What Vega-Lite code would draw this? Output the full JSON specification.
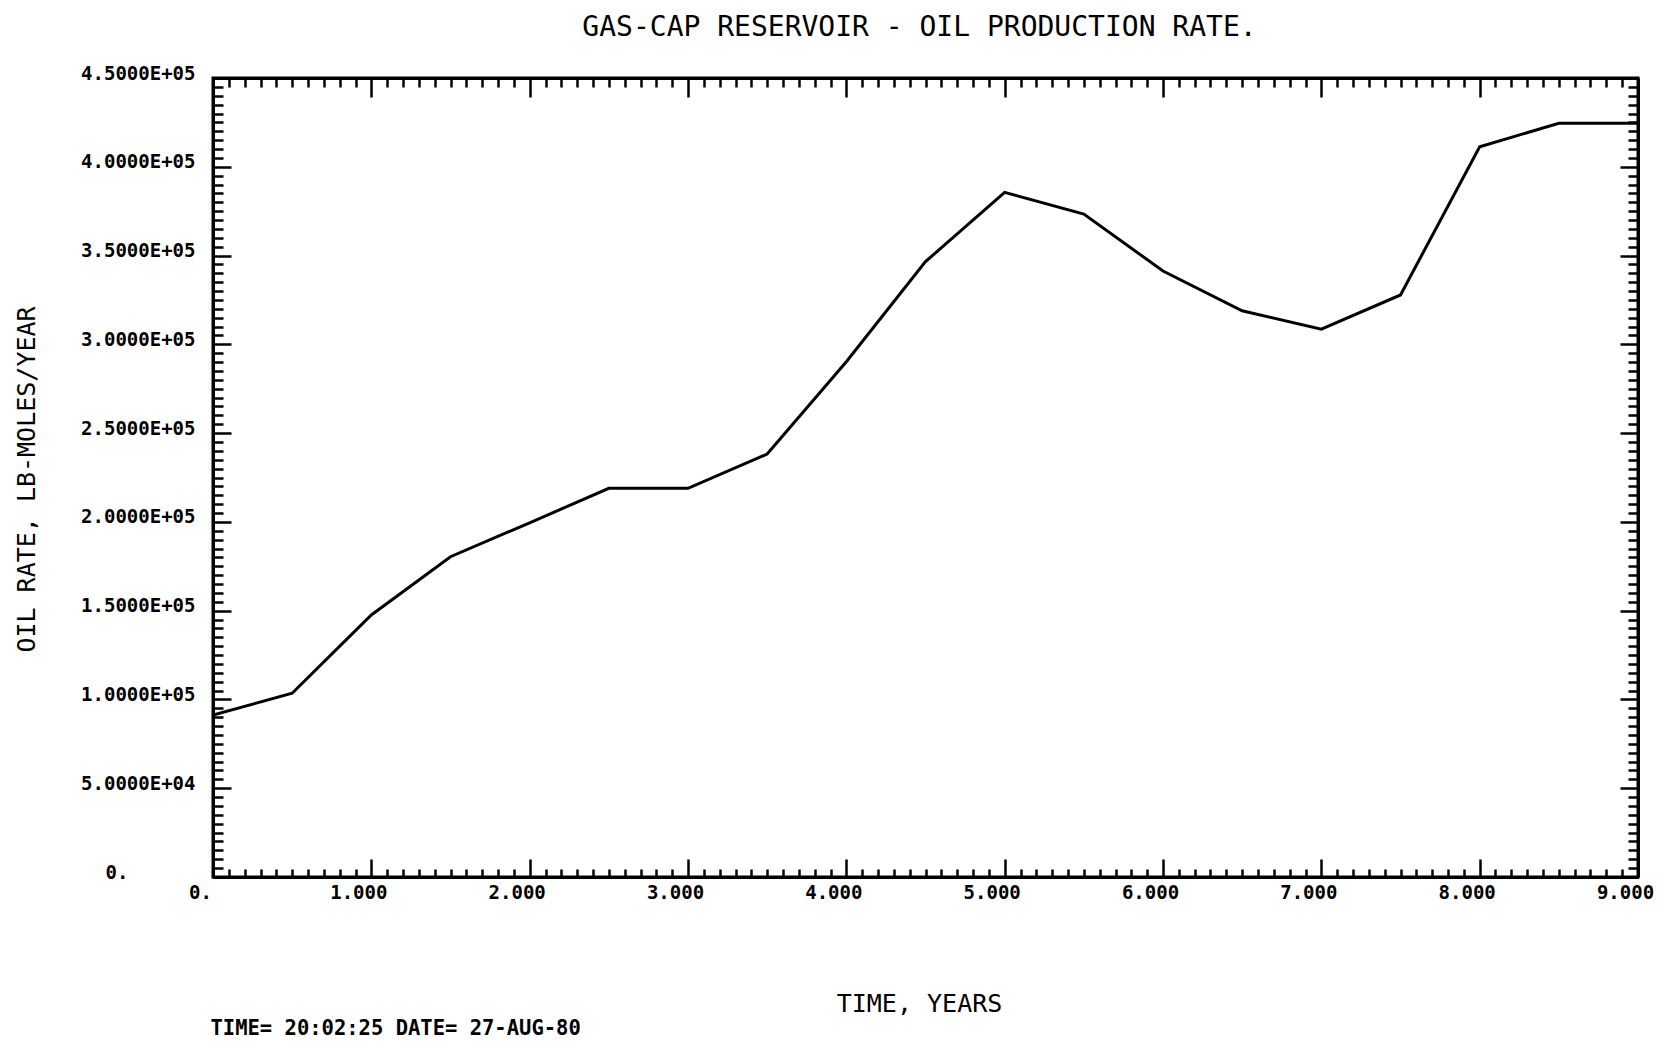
{
  "$schema": "https://vega.github.io/schema/vega-lite/v6.json",
  "width": 1425,
  "height": 799,
  "autosize": {"type": "none"},
  "padding": {"left": 213, "top": 78, "right": 20, "bottom": 165},
  "background": "white",
  "title": {
    "text": "GAS-CAP RESERVOIR - OIL PRODUCTION RATE.",
    "anchor": "middle",
    "frame": "group",
    "font": "DejaVu Sans Mono",
    "fontSize": 28,
    "fontWeight": "normal",
    "color": "black",
    "baseline": "alphabetic",
    "offset": 0,
    "dx": -6
  },
  "config": {
    "view": {"stroke": "black", "strokeWidth": 3},
    "axis": {
      "grid": false,
      "domainColor": "black",
      "domainWidth": 3,
      "tickColor": "black",
      "tickWidth": 2.5,
      "labelColor": "black",
      "titleColor": "black",
      "labelOverlap": false,
      "labelFlush": false,
      "labelBound": false
    }
  },
  "data": {
    "values": [
      {"years": 0.0, "oil_rate": 91200},
      {"years": 0.5, "oil_rate": 103500},
      {"years": 1.0, "oil_rate": 147600},
      {"years": 1.5, "oil_rate": 180400},
      {"years": 2.0, "oil_rate": 199500},
      {"years": 2.5, "oil_rate": 218900},
      {"years": 3.0, "oil_rate": 218900},
      {"years": 3.5, "oil_rate": 238200},
      {"years": 4.0, "oil_rate": 290200},
      {"years": 4.5, "oil_rate": 346600},
      {"years": 5.0, "oil_rate": 385600},
      {"years": 5.5, "oil_rate": 373400},
      {"years": 6.0, "oil_rate": 341300},
      {"years": 6.5, "oil_rate": 318900},
      {"years": 7.0, "oil_rate": 308500},
      {"years": 7.5, "oil_rate": 327800},
      {"years": 8.0, "oil_rate": 411300},
      {"years": 8.5, "oil_rate": 424500},
      {"years": 9.0, "oil_rate": 424500}
    ]
  },
  "layer": [
    {
      "mark": {"type": "line", "color": "black", "strokeWidth": 3, "clip": true},
      "encoding": {
        "x": {
          "field": "years",
          "type": "quantitative",
          "scale": {"domain": [0, 9], "nice": false, "zero": false},
          "axis": {
            "orient": "bottom",
            "values": [0, 0.1, 0.2, 0.3, 0.4, 0.5, 0.6, 0.7, 0.8, 0.9, 1, 1.1, 1.2, 1.3, 1.4, 1.5, 1.6, 1.7, 1.8, 1.9, 2, 2.1, 2.2, 2.3, 2.4, 2.5, 2.6, 2.7, 2.8, 2.9, 3, 3.1, 3.2, 3.3, 3.4, 3.5, 3.6, 3.7, 3.8, 3.9, 4, 4.1, 4.2, 4.3, 4.4, 4.5, 4.6, 4.7, 4.8, 4.9, 5, 5.1, 5.2, 5.3, 5.4, 5.5, 5.6, 5.7, 5.8, 5.9, 6, 6.1, 6.2, 6.3, 6.4, 6.5, 6.6, 6.7, 6.8, 6.9, 7, 7.1, 7.2, 7.3, 7.4, 7.5, 7.6, 7.7, 7.8, 7.9, 8, 8.1, 8.2, 8.3, 8.4, 8.5, 8.6, 8.7, 8.8, 8.9, 9],
            "tickSize": {"condition": {"test": "abs(datum.value - round(datum.value)) < 0.001", "value": -18}, "value": -8},
            "labelExpr": "abs(datum.value - round(datum.value)) < 0.001 ? (datum.value == 0 ? '0.' : format(datum.value, '.3f')) : ''",
            "labelFont": "DejaVu Sans Mono",
            "labelFontWeight": "bold",
            "labelFontSize": 19,
            "labelAlign": "center",
            "labelBaseline": "top",
            "labelOffset": -13,
            "labelPadding": 24,
            "title": "TIME, YEARS",
            "titleFont": "DejaVu Sans Mono",
            "titleFontWeight": "normal",
            "titleFontSize": 25,
            "titleAlign": "center",
            "titleBaseline": "alphabetic",
            "titleX": 706,
            "titleY": 134
          }
        },
        "y": {
          "field": "oil_rate",
          "type": "quantitative",
          "scale": {"domain": [0, 450000], "nice": false},
          "axis": {
            "orient": "left",
            "values": [0, 5000, 10000, 15000, 20000, 25000, 30000, 35000, 40000, 45000, 50000, 55000, 60000, 65000, 70000, 75000, 80000, 85000, 90000, 95000, 100000, 105000, 110000, 115000, 120000, 125000, 130000, 135000, 140000, 145000, 150000, 155000, 160000, 165000, 170000, 175000, 180000, 185000, 190000, 195000, 200000, 205000, 210000, 215000, 220000, 225000, 230000, 235000, 240000, 245000, 250000, 255000, 260000, 265000, 270000, 275000, 280000, 285000, 290000, 295000, 300000, 305000, 310000, 315000, 320000, 325000, 330000, 335000, 340000, 345000, 350000, 355000, 360000, 365000, 370000, 375000, 380000, 385000, 390000, 395000, 400000, 405000, 410000, 415000, 420000, 425000, 430000, 435000, 440000, 445000, 450000],
            "tickSize": {"condition": {"test": "datum.value % 50000 === 0", "value": -18}, "value": -10},
            "labelExpr": "datum.value % 50000 === 0 ? (datum.value == 0 ? '0.' : datum.value < 100000 ? format(datum.value / 10000, '.4f') + 'E+04' : format(datum.value / 100000, '.4f') + 'E+05') : ''",
            "labelFont": "DejaVu Sans Mono",
            "labelFontWeight": "bold",
            "labelFontSize": 19,
            "labelAlign": "right",
            "labelBaseline": "middle",
            "labelOffset": -5,
            "labelPadding": {"condition": {"test": "datum.value === 0", "value": 103}, "value": 36},
            "title": "OIL RATE, LB-MOLES/YEAR",
            "titleFont": "DejaVu Sans Mono",
            "titleFontWeight": "normal",
            "titleFontSize": 25,
            "titleAngle": 270,
            "titleAlign": "center",
            "titleBaseline": "middle",
            "titleX": -187,
            "titleY": 401
          }
        }
      }
    },
    {
      "mark": {"type": "line", "strokeOpacity": 0},
      "encoding": {
        "x": {
          "field": "years",
          "type": "quantitative",
          "scale": {"domain": [0, 9], "nice": false, "zero": false},
          "axis": {
            "orient": "top",
            "values": [0, 0.1, 0.2, 0.3, 0.4, 0.5, 0.6, 0.7, 0.8, 0.9, 1, 1.1, 1.2, 1.3, 1.4, 1.5, 1.6, 1.7, 1.8, 1.9, 2, 2.1, 2.2, 2.3, 2.4, 2.5, 2.6, 2.7, 2.8, 2.9, 3, 3.1, 3.2, 3.3, 3.4, 3.5, 3.6, 3.7, 3.8, 3.9, 4, 4.1, 4.2, 4.3, 4.4, 4.5, 4.6, 4.7, 4.8, 4.9, 5, 5.1, 5.2, 5.3, 5.4, 5.5, 5.6, 5.7, 5.8, 5.9, 6, 6.1, 6.2, 6.3, 6.4, 6.5, 6.6, 6.7, 6.8, 6.9, 7, 7.1, 7.2, 7.3, 7.4, 7.5, 7.6, 7.7, 7.8, 7.9, 8, 8.1, 8.2, 8.3, 8.4, 8.5, 8.6, 8.7, 8.8, 8.9, 9],
            "tickSize": {"condition": {"test": "abs(datum.value - round(datum.value)) < 0.001", "value": -19}, "value": -9},
            "labels": false,
            "title": null
          }
        },
        "y": {
          "field": "oil_rate",
          "type": "quantitative",
          "scale": {"domain": [0, 450000], "nice": false},
          "axis": {
            "orient": "right",
            "values": [0, 5000, 10000, 15000, 20000, 25000, 30000, 35000, 40000, 45000, 50000, 55000, 60000, 65000, 70000, 75000, 80000, 85000, 90000, 95000, 100000, 105000, 110000, 115000, 120000, 125000, 130000, 135000, 140000, 145000, 150000, 155000, 160000, 165000, 170000, 175000, 180000, 185000, 190000, 195000, 200000, 205000, 210000, 215000, 220000, 225000, 230000, 235000, 240000, 245000, 250000, 255000, 260000, 265000, 270000, 275000, 280000, 285000, 290000, 295000, 300000, 305000, 310000, 315000, 320000, 325000, 330000, 335000, 340000, 345000, 350000, 355000, 360000, 365000, 370000, 375000, 380000, 385000, 390000, 395000, 400000, 405000, 410000, 415000, 420000, 425000, 430000, 435000, 440000, 445000, 450000],
            "tickSize": {"condition": {"test": "datum.value % 50000 === 0", "value": -18}, "value": -10},
            "labels": false,
            "title": null
          }
        }
      }
    },
    {
      "mark": {"type": "line", "strokeOpacity": 0},
      "encoding": {
        "x": {
          "field": "years",
          "type": "quantitative",
          "scale": {"domain": [0, 9], "nice": false, "zero": false},
          "axis": {
            "orient": "bottom",
            "domain": false,
            "ticks": false,
            "labels": false,
            "title": "TIME= 20:02:25 DATE= 27-AUG-80",
            "titleFont": "DejaVu Sans Mono",
            "titleFontWeight": "bold",
            "titleFontSize": 20.5,
            "titleAlign": "left",
            "titleBaseline": "alphabetic",
            "titleX": -3,
            "titleY": 157
          }
        },
        "y": {
          "field": "oil_rate",
          "type": "quantitative",
          "scale": {"domain": [0, 450000], "nice": false},
          "axis": null
        }
      }
    }
  ],
  "resolve": {"axis": {"x": "independent", "y": "independent"}}
}
